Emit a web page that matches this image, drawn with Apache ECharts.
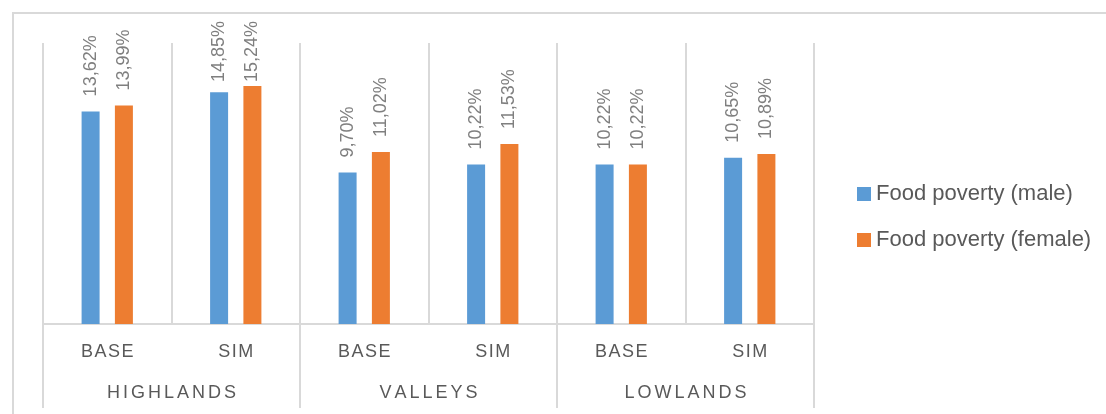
<!DOCTYPE html>
<html>
<head>
<meta charset="utf-8">
<script src="https://cdn.jsdelivr.net/npm/echarts@6/dist/echarts.min.js"></script>
<style>
html,body{margin:0;padding:0;background:#fff;}
#chart{width:1106px;height:414px;}
</style>
</head>
<body>
<div id="chart"></div>
<script>
const scenarios = ['BASE', 'SIM', 'BASE', 'SIM', 'BASE', 'SIM'];
const regions = ['HIGHLANDS', 'VALLEYS', 'LOWLANDS'];
const maleValues = [13.62, 14.85, 9.70, 10.22, 10.22, 10.65];
const femaleValues = [13.99, 15.24, 11.02, 11.53, 10.22, 10.89];
const seriesNames = ['Food poverty (male)', 'Food poverty (female)'];

const FONT = '"Liberation Sans", Arial, sans-serif';
const LABEL_SIZE = 18;
const GRID_COLOR = '#d9d9d9';
function spaced(s, n) { return s.split('').join('\u200A'.repeat(n)); }
function pct(v) { return v.toFixed(2).replace('.', ',') + '%'; }

const chart = echarts.init(document.getElementById('chart'), null, {renderer: 'canvas'});
const labelCfg = {
  show: true,
  position: 'top',
  rotate: 90,
  align: 'left',
  verticalAlign: 'middle',
  distance: 15,
  color: '#7f7f7f',
  fontFamily: FONT,
  fontSize: LABEL_SIZE,
  formatter: p => pct(p.value)
};
chart.setOption({
  animation: false,
  backgroundColor: '#ffffff',
  graphic: [{
    type: 'rect',
    shape: {x: 13, y: 13, width: 1100, height: 410},
    style: {fill: 'none', stroke: GRID_COLOR, lineWidth: 2},
    silent: true
  }],
  grid: {left: 43, right: 292, top: 43, bottom: 90, containLabel: false},
  legend: {
    orient: 'vertical',
    left: 852,
    top: 178,
    itemWidth: 14,
    itemHeight: 14,
    itemGap: 24,
    icon: 'rect',
    textStyle: {color: '#595959', fontFamily: FONT, fontSize: 22},
    data: seriesNames
  },
  xAxis: [{
    type: 'category',
    data: scenarios,
    position: 'bottom',
    axisLine: {show: true, lineStyle: {color: GRID_COLOR, width: 2}},
    axisTick: {show: false},
    splitLine: {show: true, interval: 0, lineStyle: {color: GRID_COLOR, width: 2}},
    axisLabel: {
      interval: 0, margin: 19, color: '#595959', fontFamily: FONT, fontSize: 18,
      formatter: v => spaced(v, 1)
    }
  }, {
    type: 'category',
    data: regions,
    position: 'bottom',
    offset: 0,
    axisLine: {show: false},
    axisTick: {show: true, interval: 0, length: 84, lineStyle: {color: GRID_COLOR, width: 2}},
    splitLine: {show: false},
    axisLabel: {
      interval: 0, margin: 60, color: '#595959', fontFamily: FONT, fontSize: 18,
      formatter: v => spaced(v, 2)
    }
  }],
  yAxis: {type: 'value', min: 0, max: 18, show: false, splitLine: {show: false}},
  series: [{
    name: seriesNames[0],
    type: 'bar',
    xAxisIndex: 0,
    data: maleValues,
    barWidth: 18,
    barGap: '85%',
    itemStyle: {color: '#5b9bd5'},
    label: labelCfg
  }, {
    name: seriesNames[1],
    type: 'bar',
    xAxisIndex: 0,
    data: femaleValues,
    barWidth: 18,
    barGap: '85%',
    itemStyle: {color: '#ed7d31'},
    label: labelCfg
  }]
});

// Keep labels inside the chart area (like Excel does): shorten the label distance near the top.
const ctx = document.createElement('canvas').getContext('2d');
ctx.font = LABEL_SIZE + 'px ' + FONT;
const TOP_LIMIT = 21;
function clampData(values) {
  return values.map((v, j) => {
    const y = chart.convertToPixel({xAxisIndex: 0, yAxisIndex: 0}, [j, v])[1];
    const len = ctx.measureText(pct(v)).width;
    const d = Math.max(2, Math.min(15, y - len - TOP_LIMIT));
    return {value: v, label: {distance: d}};
  });
}
chart.setOption({series: [{data: clampData(maleValues)}, {data: clampData(femaleValues)}]});
</script>
</body>
</html>
